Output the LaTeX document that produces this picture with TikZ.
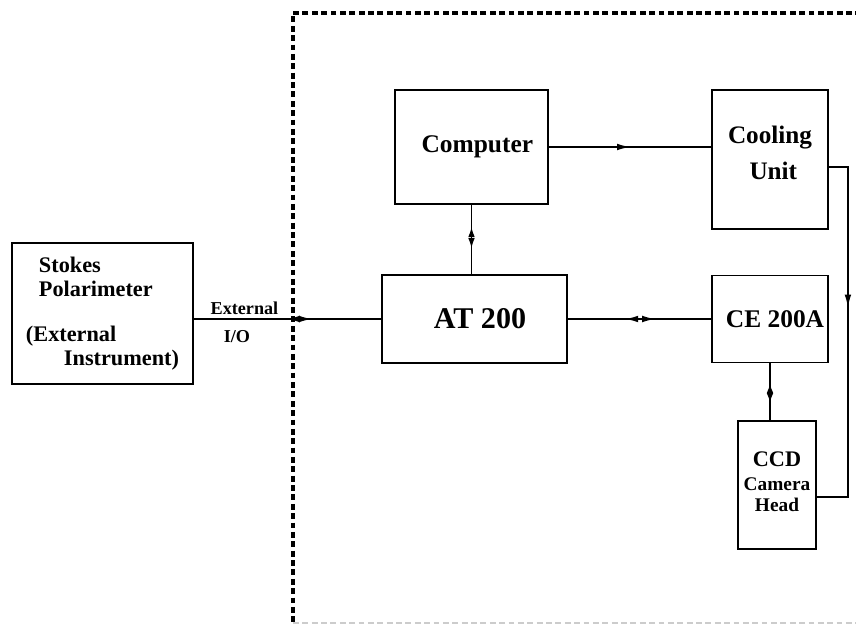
\documentclass[tikz,border=0pt]{standalone}
\usepackage{fontspec}
\setmainfont{Liberation Serif}
\usetikzlibrary{arrows.meta,decorations.markings}
\tikzset{iotip/.tip={Latex[length=3.9mm,width=2mm]}}

\begin{document}
\begin{tikzpicture}[x=0.03cm, y=-0.03cm,
  every node/.style={font=\bfseries, align=center},
  box/.style={draw, line width=1.6pt, inner sep=0pt},
  conn/.style={line width=1.2pt},
  oneway/.style={conn, postaction=decorate, decoration={markings,
    mark=at position #1 with {\arrow{iotip}}}},
  twoway/.style n args={3}{conn, postaction=decorate, decoration={markings,
    mark=at position #1 with {\draw[conn, {Latex[length=#3,width=2mm]}-{Latex[length=#3,width=2mm]}] (0,0) -- (#2,0);}}},
  lab/.style={font=\fontsize{15.5}{17}\bfseries, inner sep=3pt},
  frame/.style={line width=3pt, dash pattern=on 5pt off 3pt}]
\useasboundingbox (0,0) rectangle (856,624);
\clip (0,0) rectangle (856,624);

% dashed boundary of the system
\draw[frame] (880,13) -- (293,13) -- (293,640);
\draw[frame, black!20] (293,624) -- (880,624);

% blocks
\node[box, minimum width=5.43cm, minimum height=4.23cm, align=left,
  font=\fontsize{19}{20.5}\bfseries] (pol) at (102.5,313.5)
  {\hspace*{0.39cm}Stokes\\\hspace*{0.39cm}Polarimeter\\[18pt](External\\\hspace*{1.14cm}Instrument)};
\node[box, minimum width=4.59cm, minimum height=3.42cm,
  font=\fontsize{21.7}{25}\bfseries] (comp) at (471.5,147) {\hspace*{0.35cm}Computer};
\node[box, minimum width=5.55cm, minimum height=2.64cm,
  font=\fontsize{25.7}{29}\bfseries] (at) at (474.5,319) {\hspace*{0.33cm}AT 200};
\node[box, minimum width=3.48cm, minimum height=4.17cm, text depth=0.39cm,
  font=\fontsize{21.5}{24}\bfseries] (cool) at (770,159.5) {Cooling\\[7pt]\hspace*{0.2cm}Unit};
\node[box, minimum width=3.48cm, minimum height=2.61cm,
  font=\fontsize{21.7}{25}\bfseries] (ce) at (770,319) {\hspace*{0.3cm}CE 200A};
\node[box, minimum width=2.34cm, minimum height=3.84cm, text depth=0.2cm,
  font=\fontsize{19}{20.5}\bfseries] (ccd) at (777,485)
  {CCD\\\fontsize{16.5}{17}\selectfont Camera\\[-3pt]\fontsize{16.5}{17}\selectfont Head};

% connections
\draw[twoway={0.497}{25}{3.9mm}] (pol.east |- at.west) -- (at.west)
  node[lab, above, pos=0.27] {External} node[lab, below=6pt, pos=0.23] {I/O};
\draw[twoway={0.40}{30}{3.9mm}] (at.east) -- (ce.west);
\draw[oneway=0.5] (comp.east) -- (comp.east -| cool.west);
\draw[twoway={0.32}{21}{3mm}] (comp.south) -- (comp.south |- at.north);
\draw[twoway={0.356}{19}{2.85mm}] (ce.south) -- (ce.south |- ccd.north);
\draw[oneway=0.42] ([yshift=-0.225cm]cool.east) -- ++(19,0) |- ([yshift=-0.36cm]ccd.east);
\end{tikzpicture}
\end{document}
